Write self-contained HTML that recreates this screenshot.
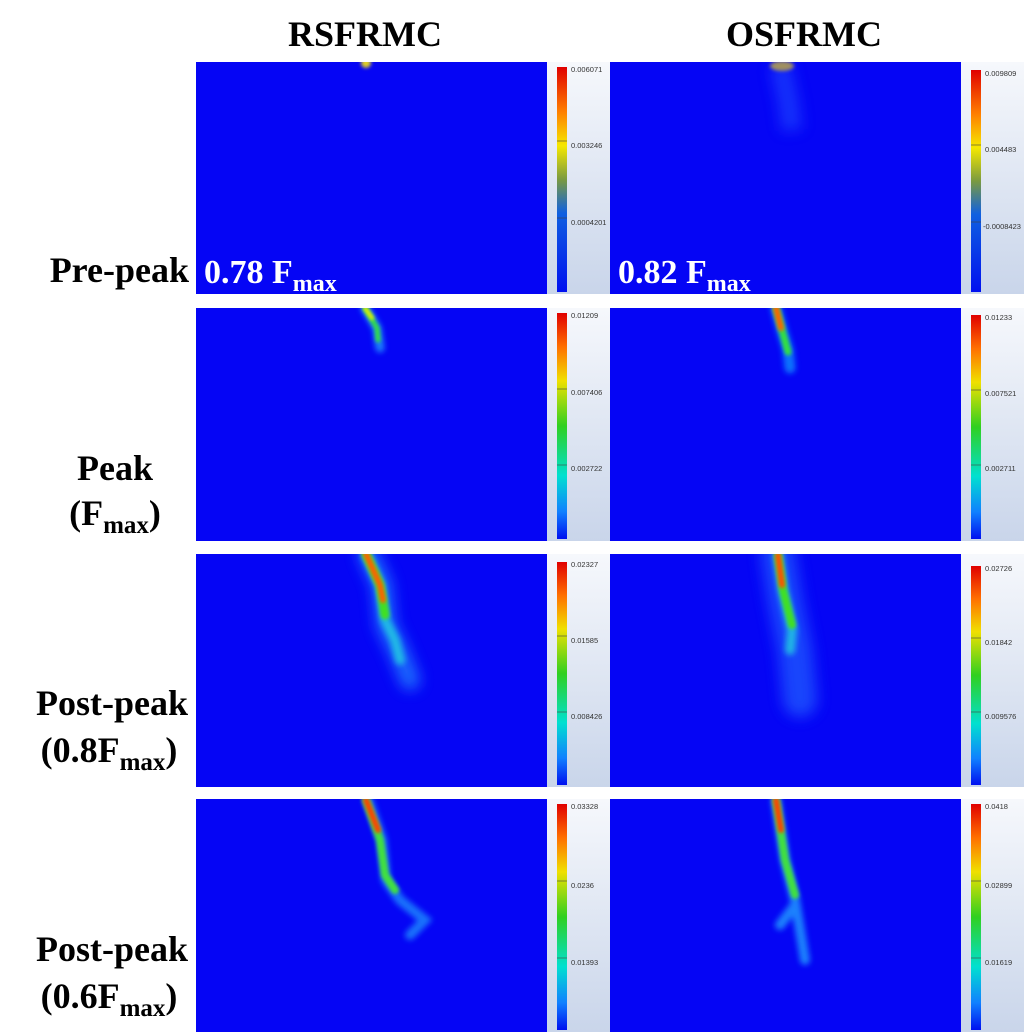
<!DOCTYPE html>
<html><head><meta charset="utf-8"><style>
html,body{margin:0;padding:0;background:#fff;}
svg{display:block;}
.t{font-family:"Liberation Serif",serif;font-weight:bold;fill:#000;}
.w{font-family:"Liberation Serif",serif;font-weight:bold;fill:#fff;}
.c{font-family:"Liberation Sans",sans-serif;font-size:7.5px;fill:#333;}
</style></head><body>
<svg width="1024" height="1036" viewBox="0 0 1024 1036" xmlns="http://www.w3.org/2000/svg">
<defs>
<linearGradient id="bg" x1="0" y1="0" x2="0" y2="1"><stop offset="0" stop-color="#f6f8fc"/><stop offset="1" stop-color="#c9d5ea"/></linearGradient>
<linearGradient id="jet" x1="0" y1="0" x2="0" y2="1">
<stop offset="0" stop-color="#e00000"/><stop offset="0.15" stop-color="#ff7000"/><stop offset="0.3" stop-color="#f0e000"/><stop offset="0.5" stop-color="#30d020"/><stop offset="0.72" stop-color="#00e0d0"/><stop offset="0.88" stop-color="#1080ff"/><stop offset="1" stop-color="#0010f0"/></linearGradient>
<linearGradient id="jet1" x1="0" y1="0" x2="0" y2="1">
<stop offset="0" stop-color="#e00000"/><stop offset="0.2" stop-color="#ff8000"/><stop offset="0.35" stop-color="#f5e800"/><stop offset="0.5" stop-color="#7a9a40"/><stop offset="0.65" stop-color="#1060e0"/><stop offset="1" stop-color="#0010f0"/></linearGradient>
<filter id="b6" filterUnits="userSpaceOnUse" x="0" y="0" width="1024" height="1036"><feGaussianBlur stdDeviation="7"/></filter>
<filter id="b3" filterUnits="userSpaceOnUse" x="0" y="0" width="1024" height="1036"><feGaussianBlur stdDeviation="3"/></filter>
<filter id="b2" filterUnits="userSpaceOnUse" x="0" y="0" width="1024" height="1036"><feGaussianBlur stdDeviation="1.8"/></filter>
<clipPath id="r1l"><rect x="196" y="62" width="351" height="232"/></clipPath>
<clipPath id="r1r"><rect x="610" y="62" width="351" height="232"/></clipPath>
<clipPath id="r2l"><rect x="196" y="308" width="351" height="233"/></clipPath>
<clipPath id="r2r"><rect x="610" y="308" width="351" height="233"/></clipPath>
<clipPath id="r3l"><rect x="196" y="554" width="351" height="233"/></clipPath>
<clipPath id="r3r"><rect x="610" y="554" width="351" height="233"/></clipPath>
<clipPath id="r4l"><rect x="196" y="799" width="351" height="233"/></clipPath>
<clipPath id="r4r"><rect x="610" y="799" width="351" height="233"/></clipPath>
</defs>
<text class="t" x="365" y="46" font-size="36" text-anchor="middle">RSFRMC</text>
<text class="t" x="804" y="46" font-size="36" text-anchor="middle">OSFRMC</text>

<g fill="url(#bg)">
<rect x="547" y="62" width="63" height="232"/><rect x="961" y="62" width="63" height="232"/>
<rect x="547" y="308" width="63" height="233"/><rect x="961" y="308" width="63" height="233"/>
<rect x="547" y="554" width="63" height="233"/><rect x="961" y="554" width="63" height="233"/>
<rect x="547" y="799" width="63" height="233"/><rect x="961" y="799" width="63" height="233"/>
</g>
<g fill="#0505f5">
<rect x="196" y="62" width="351" height="232"/><rect x="610" y="62" width="351" height="232"/>
<rect x="196" y="308" width="351" height="233"/><rect x="610" y="308" width="351" height="233"/>
<rect x="196" y="554" width="351" height="233"/><rect x="610" y="554" width="351" height="233"/>
<rect x="196" y="799" width="351" height="233"/><rect x="610" y="799" width="351" height="233"/>
</g>

<g clip-path="url(#r1l)">
<ellipse cx="366" cy="63" rx="5" ry="5" fill="#e0d020" filter="url(#b2)"/>
</g>
<g clip-path="url(#r1r)">
<path d="M780 65 L788 100 L792 130" stroke="#2050ff" stroke-width="20" fill="none" filter="url(#b6)" opacity="0.6"/>
<ellipse cx="782" cy="66" rx="12" ry="5" fill="#a09060" filter="url(#b2)"/>
</g>
<g clip-path="url(#r2l)" fill="none" stroke-linecap="round">
<path d="M365 308 L377 328 L380 348" stroke="#20a0ff" stroke-width="9" filter="url(#b3)" opacity="0.8"/>
<path d="M365 308 L377 328 L378 340" stroke="#30e040" stroke-width="5" filter="url(#b2)"/>
<path d="M365 308 L372 318" stroke="#f0f000" stroke-width="4" filter="url(#b2)"/>
</g>
<g clip-path="url(#r2r)" fill="none" stroke-linecap="round">
<path d="M776 308 L782 330 L788 350 L790 368" stroke="#1090ff" stroke-width="11" filter="url(#b3)" opacity="0.8"/>
<path d="M776 308 L782 330 L788 352" stroke="#30e040" stroke-width="7" filter="url(#b2)"/>
<path d="M776 308 L781 328" stroke="#ff6000" stroke-width="6" filter="url(#b2)"/>
</g>
<g clip-path="url(#r3l)" fill="none" stroke-linecap="round">
<path d="M368 554 L382 585 L386 625 L398 650 L410 680" stroke="#2080ff" stroke-width="20" filter="url(#b6)" opacity="0.8"/>
<path d="M366 554 L380 585 L385 620 L395 640 L400 660" stroke="#20d0e0" stroke-width="10" filter="url(#b3)" opacity="0.8"/>
<path d="M366 554 L380 585 L385 615" stroke="#40e020" stroke-width="9" filter="url(#b2)"/>
<path d="M366 554 L380 585 L383 600" stroke="#ff6000" stroke-width="6" filter="url(#b2)"/>
</g>
<g clip-path="url(#r3r)" fill="none" stroke-linecap="round">
<path d="M778 555 L785 600 L795 650 L800 700" stroke="#2060ff" stroke-width="34" filter="url(#b6)" opacity="0.7"/>
<path d="M778 555 L783 590 L792 630 L790 650" stroke="#20d0e0" stroke-width="10" filter="url(#b3)" opacity="0.8"/>
<path d="M778 555 L783 590 L792 625" stroke="#40e020" stroke-width="8" filter="url(#b2)"/>
<path d="M778 555 L782 585" stroke="#ff5000" stroke-width="6" filter="url(#b2)"/>
</g>
<g clip-path="url(#r4l)" fill="none" stroke-linecap="round">
<path d="M368 800 L382 840 L386 880 L400 900 L425 920 L410 935" stroke="#20a0ff" stroke-width="10" filter="url(#b3)" opacity="0.7"/>
<path d="M366 800 L380 840 L385 875 L395 890" stroke="#40e040" stroke-width="8" filter="url(#b2)"/>
<path d="M366 800 L378 830" stroke="#ff4000" stroke-width="6" filter="url(#b2)"/>
</g>
<g clip-path="url(#r4r)" fill="none" stroke-linecap="round">
<path d="M776 800 L785 860 L795 900 L805 960 M795 905 L780 925" stroke="#20a0ff" stroke-width="10" filter="url(#b3)" opacity="0.8"/>
<path d="M776 800 L785 860 L795 895" stroke="#40e040" stroke-width="8" filter="url(#b2)"/>
<path d="M776 800 L781 830" stroke="#ff4000" stroke-width="6" filter="url(#b2)"/>
</g>

<rect x="557" y="67" width="10" height="225" fill="url(#jet1)"/>
<rect x="971" y="70" width="10" height="222" fill="url(#jet1)"/>
<rect x="557" y="313" width="10" height="226" fill="url(#jet)"/>
<rect x="971" y="315" width="10" height="224" fill="url(#jet)"/>
<rect x="557" y="562" width="10" height="223" fill="url(#jet)"/>
<rect x="971" y="566" width="10" height="219" fill="url(#jet)"/>
<rect x="557" y="804" width="10" height="226" fill="url(#jet)"/>
<rect x="971" y="804" width="10" height="226" fill="url(#jet)"/>
<g stroke="#444" stroke-width="0.6">
<line x1="557" y1="141" x2="567" y2="141"/><line x1="557" y1="218" x2="567" y2="218"/>
<line x1="971" y1="145" x2="981" y2="145"/><line x1="971" y1="222" x2="981" y2="222"/>
<line x1="557" y1="389" x2="567" y2="389"/><line x1="557" y1="465" x2="567" y2="465"/>
<line x1="971" y1="390" x2="981" y2="390"/><line x1="971" y1="465" x2="981" y2="465"/>
<line x1="557" y1="636" x2="567" y2="636"/><line x1="557" y1="712" x2="567" y2="712"/>
<line x1="971" y1="638" x2="981" y2="638"/><line x1="971" y1="712" x2="981" y2="712"/>
<line x1="557" y1="881" x2="567" y2="881"/><line x1="557" y1="958" x2="567" y2="958"/>
<line x1="971" y1="881" x2="981" y2="881"/><line x1="971" y1="958" x2="981" y2="958"/>
</g>
<g class="c">
<text x="571" y="72">0.006071</text><text x="571" y="148">0.003246</text><text x="571" y="225">0.0004201</text>
<text x="985" y="76">0.009809</text><text x="985" y="152">0.004483</text><text x="983" y="229">-0.0008423</text>
<text x="571" y="318">0.01209</text><text x="571" y="395">0.007406</text><text x="571" y="471">0.002722</text>
<text x="985" y="320">0.01233</text><text x="985" y="396">0.007521</text><text x="985" y="471">0.002711</text>
<text x="571" y="567">0.02327</text><text x="571" y="643">0.01585</text><text x="571" y="719">0.008426</text>
<text x="985" y="571">0.02726</text><text x="985" y="645">0.01842</text><text x="985" y="719">0.009576</text>
<text x="571" y="809">0.03328</text><text x="571" y="888">0.0236</text><text x="571" y="965">0.01393</text>
<text x="985" y="809">0.0418</text><text x="985" y="888">0.02899</text><text x="985" y="965">0.01619</text>
</g>

<text class="w" x="204" y="283" font-size="34">0.78 F<tspan font-size="24" dy="8">max</tspan></text>
<text class="w" x="618" y="283" font-size="34">0.82 F<tspan font-size="24" dy="8">max</tspan></text>

<text class="t" x="189" y="282" font-size="36" text-anchor="end">Pre-peak</text>
<text class="t" x="115" y="480" font-size="36" text-anchor="middle">Peak</text>
<text class="t" x="115" y="525" font-size="36" text-anchor="middle">(F<tspan font-size="25" dy="8">max</tspan><tspan dy="-8">)</tspan></text>
<text class="t" x="112" y="715" font-size="36" text-anchor="middle">Post-peak</text>
<text class="t" x="109" y="762" font-size="36" text-anchor="middle">(0.8F<tspan font-size="25" dy="8">max</tspan><tspan dy="-8">)</tspan></text>
<text class="t" x="112" y="961" font-size="36" text-anchor="middle">Post-peak</text>
<text class="t" x="109" y="1008" font-size="36" text-anchor="middle">(0.6F<tspan font-size="25" dy="8">max</tspan><tspan dy="-8">)</tspan></text>
</svg>
</body></html>
